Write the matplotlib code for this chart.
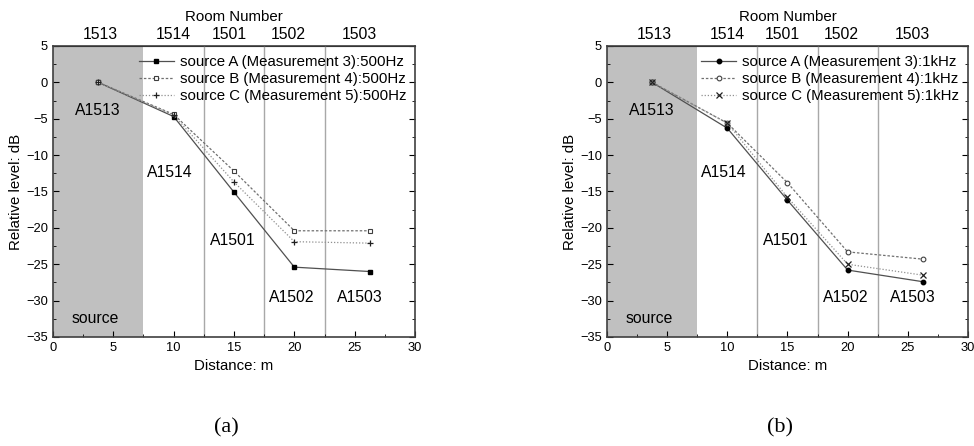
import matplotlib
matplotlib.use("Agg")
import matplotlib.pyplot as plt
from matplotlib.ticker import MultipleLocator

plt.rcParams['font.family'] = ['Liberation Sans', 'DejaVu Sans']

distance = [3.75, 10, 15, 20, 26.25]
rooms = ["1513", "1514", "1501", "1502", "1503"]
room_label_pos = [3.9, 10, 14.6, 19.5, 25.4]
room_bounds = [12.5, 17.5, 22.5]
source_end = 7.5

a_src_A = [0, -4.7, -15.1, -25.4, -26.0]
a_src_B = [0, -4.4, -12.2, -20.4, -20.4]
a_src_C = [0, -4.5, -13.7, -21.9, -22.1]

b_src_A = [0, -6.3, -16.2, -25.8, -27.4]
b_src_B = [0, -5.6, -13.8, -23.3, -24.3]
b_src_C = [0, -5.6, -15.8, -25.0, -26.5]

area_labels = ["A1513", "A1514", "A1501", "A1502", "A1503"]
area_label_xy = [(3.7, -3.8), (9.7, -12.4), (14.9, -21.8), (19.8, -29.6), (25.4, -29.6)]

fig = plt.figure(figsize=(9.74, 4.46), dpi=100)
FS = 10.8


def panel(ax, A, B, C, freq, mA, mB, mC, caption):
    ax.axvspan(0, source_end, color='#c0c0c0', zorder=0, lw=0)
    for xb in room_bounds:
        ax.axvline(xb, color='#a8a8a8', lw=1.0, zorder=1)
    ax.plot(distance, A, color='#505050', lw=0.9, ls='-', marker=mA, ms=3.2,
            mfc='black', mec='black', label=f"source A (Measurement 3):{freq}", zorder=3)
    ax.plot(distance, B, color='#707070', lw=0.9, ls=(0, (2, 1.5)), marker=mB, ms=3.4,
            mfc='white', mec='#404040', mew=0.8, label=f"source B (Measurement 4):{freq}", zorder=3)
    ax.plot(distance, C, color='#909090', lw=0.9, ls=(0, (1, 1.5)), marker=mC, ms=4,
            mec='#202020', mew=0.9, label=f"source C (Measurement 5):{freq}", zorder=3)
    for t, (x, y) in zip(area_labels, area_label_xy):
        ax.text(x, y, t, ha='center', va='center', fontsize=FS + 0.5)
    ax.text(3.5, -32.5, "source", ha='center', va='center', fontsize=FS + 0.5)
    ax.set_xlim(0, 30)
    ax.set_ylim(-35, 5)
    ax.xaxis.set_major_locator(MultipleLocator(5))
    ax.xaxis.set_minor_locator(MultipleLocator(2.5))
    ax.yaxis.set_major_locator(MultipleLocator(5))
    ax.yaxis.set_minor_locator(MultipleLocator(2.5))
    ax.tick_params(which='both', direction='in', right=True, top=False, labelsize=FS - 1.5)
    ax.tick_params(which='major', length=4)
    ax.tick_params(which='minor', length=2.5)
    for s in ax.spines.values():
        s.set_color('#404040')
        s.set_linewidth(1.2)
    ax.set_xlabel("Distance: m", fontsize=FS)
    ax.set_ylabel("Relative level: dB", fontsize=FS, labelpad=2)
    top = ax.secondary_xaxis('top')
    top.set_xticks(room_label_pos)
    top.set_xticklabels(rooms, fontsize=FS + 0.5)
    top.tick_params(length=0, pad=3)
    top.set_xlabel("Room Number", fontsize=FS, labelpad=4)
    ax.legend(loc='upper right', frameon=False, fontsize=FS, handlelength=2.3,
              handletextpad=0.4, labelspacing=0.2, borderaxespad=0.2)
    fig.text(ax.get_position().x0 + ax.get_position().width * 0.48, 0.04, caption,
             ha='center', va='center', fontsize=16, family='Liberation Serif')


ax1 = fig.add_axes([0.0544, 0.2444, 0.3717, 0.6525])
panel(ax1, a_src_A, a_src_B, a_src_C, "500Hz", 's', 's', '+', "(a)")
ax2 = fig.add_axes([0.6232, 0.2444, 0.3706, 0.6525])
panel(ax2, b_src_A, b_src_B, b_src_C, "1kHz", 'o', 'o', 'x', "(b)")

fig.savefig("out.png", dpi=100)
